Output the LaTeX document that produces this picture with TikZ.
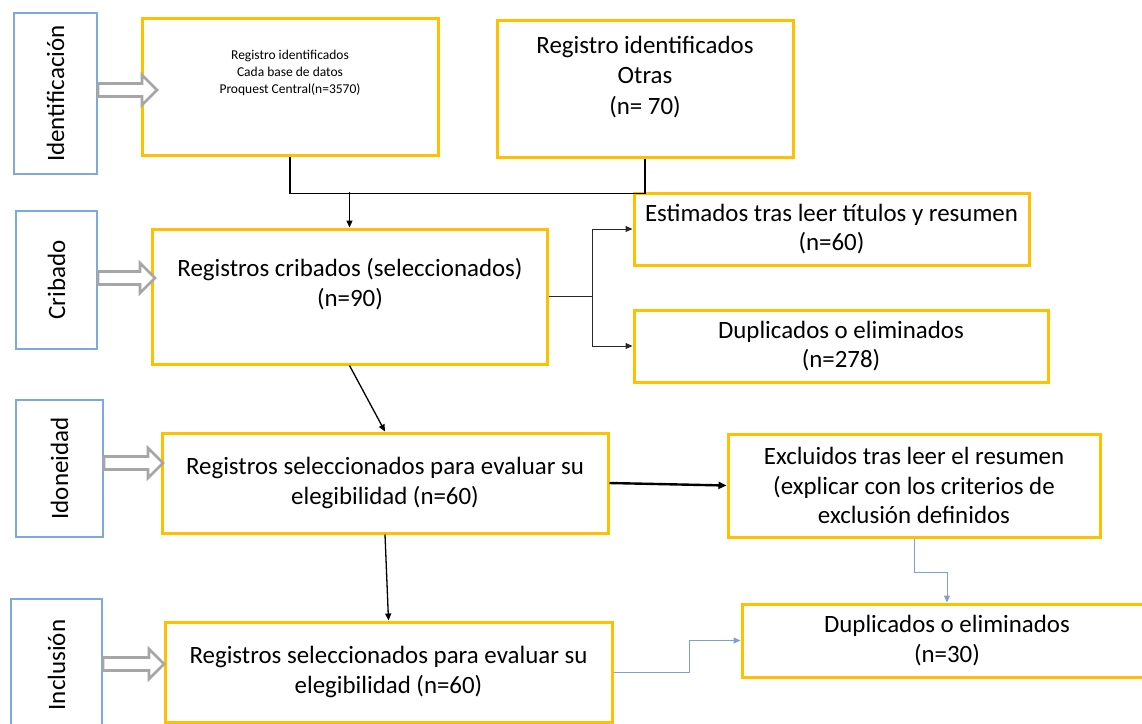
\documentclass[tikz,border=0pt]{standalone}
\usepackage{fontspec}
\setmainfont{Carlito}
\usetikzlibrary{arrows.meta}
\definecolor{boxorange}{RGB}{255,192,0}
\definecolor{labblue}{RGB}{125,170,222}
\definecolor{lineblue}{RGB}{125,160,218}
\definecolor{hollowgray}{RGB}{166,166,166}
\definecolor{darkline}{RGB}{40,40,40}
\begin{document}
\begin{tikzpicture}[x=1pt,y=-1pt,
  box/.style={draw=boxorange, line width=3pt, rectangle, inner sep=0pt, align=center,
    font=\fontsize{24.9}{29.5}\selectfont},
  lab/.style={draw=labblue, line width=1.1pt, rectangle, rotate=90, inner sep=0pt,
    font=\fontsize{25}{30}\selectfont},
  txt/.style={inner sep=0pt, align=center, font=\fontsize{24.9}{29.5}\selectfont},
  conn/.style={draw=black, line width=1.3pt},
  arr/.style={conn, -{Triangle[length=7pt,width=6pt]}},
  thinarr/.style={draw=darkline, line width=1pt, -{Triangle[length=7pt,width=6pt]}},
  thickarr/.style={draw=black, line width=2.4pt, -{Triangle[length=8pt,width=7pt]}},
  barr/.style={draw=lineblue, line width=1pt, -{Triangle[length=7pt,width=6pt]}},
  hollow/.style={draw=hollowgray, line width=2.6pt, fill=white, line join=miter},
]
\clip (0,0) rectangle (1142,723);
\fill[white] (0,0) rectangle (1142,723);

% stage labels
\node[lab, minimum width=161pt, minimum height=83pt] (l1) at (55.5,93.5) {Identificación};
\node[lab, minimum width=138pt, minimum height=81pt] (l2) at (56.5,280) {Cribado};
\node[lab, minimum width=137pt, minimum height=87pt] (l3) at (59.5,468.5) {Idoneidad};
\node[lab, minimum width=132pt, minimum height=91pt] (l4) at (56.5,665) {Inclusión};

% boxes
\node[box, minimum width=296pt, minimum height=137pt] (b1) at (290,86.5) {};
\node[box, minimum width=296pt, minimum height=137pt] (b2) at (645,88.5) {};
\node[box, minimum width=395pt, minimum height=135pt] (b3) at (349.5,296.5) {};
\node[box, minimum width=395pt, minimum height=72pt] (b4) at (831.5,229)
  {Estimados tras leer títulos y resumen\\(n=60)};
\node[box, minimum width=414pt, minimum height=72pt] (b5) at (841,346)
  {Duplicados o eliminados\\(n=278)};
\node[box, minimum width=446pt, minimum height=100pt] (b6) at (385,483)
  {Registros seleccionados para evaluar su\\elegibilidad (n=60)};
\node[box, minimum width=372pt, minimum height=103pt] (b7) at (914,485.5)
  {Excluidos tras leer el resumen\\(explicar con los criterios de\\exclusión definidos};
\node[box, minimum width=410pt, minimum height=73pt] (b8) at (947,640.5)
  {Duplicados o eliminados\\(n=30)};
\node[box, minimum width=447pt, minimum height=100pt] (b9) at (388.5,672)
  {Registros seleccionados para evaluar su\\elegibilidad (n=60)};

% texts of the upper boxes
\node[txt, font=\fontsize{13.5}{17}\selectfont] (t1) at (290,73)
  {Registro identificados\\Cada base de datos\\Proquest Central(n=3570)};
\node[txt, font=\fontsize{24.9}{30.5}\selectfont] (t2) at (645,77)
  {Registro identificados\\Otras\\(n= 70)};
\node[txt] (t3) at (350,284) {Registros cribados (seleccionados)\\(n=90)};

% hollow stage arrows
\draw[hollow] (98,83.5) -- (142,83.5) -- (142,75) -- (157,90) -- (142,105) -- (142,96.5) -- (98,96.5) -- cycle;
\draw[hollow] (98,271.5) -- (140,271.5) -- (140,263) -- (155,278) -- (140,293) -- (140,284.5) -- (98,284.5) -- cycle;
\draw[hollow] (104,456.5) -- (148,456.5) -- (148,448) -- (163,463) -- (148,478) -- (148,469.5) -- (104,469.5) -- cycle;
\draw[hollow] (103,657.5) -- (149,657.5) -- (149,649) -- (164,664) -- (149,679) -- (149,670.5) -- (103,670.5) -- cycle;

% connectors
\draw[conn] (b1.south) -- ++(0,37) -| (b2.south);
\coordinate (j) at (349.5,192);
\draw[arr] (j) -- (b3.north);
\draw[draw=darkline, line width=1pt] (b3.east) -- ++(44,0) coordinate (sp);
\draw[thinarr] (sp) |- (b4.west);
\draw[thinarr] (sp) |- (b5.west);
\draw[arr] (b3.south) -- (b6.north);
\draw[arr] (b6.south) -- (b9.north);
\draw[thickarr] (b6.east) -- (b7.west);
\draw[barr] (b7.south) -- ++(0,34) -| (b8.north);
\draw[barr] (b9.east) -- ++(76,0) |- (b8.west);
\end{tikzpicture}
\end{document}
